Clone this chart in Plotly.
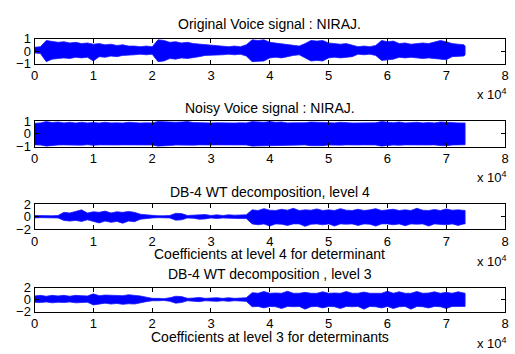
import plotly.graph_objects as go

# sample positions (every 1000 samples, last sample ~73200)
samples = list(range(0, 74000, 1000)) + [73200]

# Envelopes (upper / lower amplitude)
orig_upper = [0.3, 0.35, 0.85, 0.8, 0.7, 0.75, 0.65, 0.7, 0.6, 0.65, 0.55,
              0.6, 0.5, 0.55, 0.45, 0.5, 0.4, 0.4, 0.35, 0.4, 0.35,
              0.9, 0.85, 0.7, 0.75, 0.65, 0.7, 0.6, 0.55, 0.5, 0.45,
              0.45, 0.4, 0.35, 0.4, 0.35, 0.5, 0.9, 0.85, 0.9, 0.7,
              0.65, 0.6, 0.55, 0.45, 0.4, 0.6, 0.85, 0.8, 0.85, 0.65,
              0.6, 0.55, 0.6, 0.5, 0.35, 0.4, 0.35, 0.45, 0.85, 0.75,
              0.8, 0.6, 0.65, 0.55, 0.6, 0.65, 0.6, 0.7, 0.85, 0.75,
              0.6, 0.55, 0.5, 0.4]
orig_lower = [-0.15, -0.2, -0.85, -0.65, -0.6, -0.55, -0.6, -0.5, -0.55, -0.5, -0.8,
              -0.45, -0.5, -0.4, -0.45, -0.35, -0.3, -0.3, -0.25, -0.3, -0.25,
              -0.85, -0.8, -0.6, -0.65, -0.55, -0.6, -0.5, -0.45, -0.35, -0.35,
              -0.3, -0.3, -0.25, -0.3, -0.25, -0.4, -0.85, -0.85, -0.8, -0.55,
              -0.5, -0.55, -0.45, -0.35, -0.3, -0.55, -0.8, -0.75, -0.8, -0.55,
              -0.5, -0.55, -0.5, -0.45, -0.25, -0.3, -0.25, -0.35, -0.75, -0.7,
              -0.65, -0.5, -0.55, -0.5, -0.55, -0.6, -0.55, -0.6, -0.65, -0.7,
              -0.45, -0.4, -0.4, -0.3]

noisy_upper = [0.82, 0.85, 0.95, 0.88, 0.92, 0.85, 0.9, 0.84, 0.9, 0.85, 0.88,
               0.84, 0.9, 0.85, 0.86, 0.84, 0.9, 0.85, 0.84, 0.86, 0.85,
               0.95, 0.93, 0.88, 0.9, 0.92, 0.95, 0.88, 0.85, 0.87, 0.84,
               0.86, 0.84, 0.85, 0.84, 0.86, 0.85, 0.95, 0.93, 0.9, 0.95,
               0.9, 0.92, 0.85, 0.86, 0.84, 0.86, 0.92, 0.9, 0.93, 0.88,
               0.85, 0.9, 0.86, 0.84, 0.85, 0.84, 0.85, 0.86, 0.95, 0.9,
               0.86, 0.92, 0.85, 0.87, 0.9, 0.85, 0.88, 0.85, 0.92, 0.9,
               0.86, 0.85, 0.84, 0.85]
noisy_lower = [-0.85, -0.86, -0.95, -0.9, -0.86, -0.85, -0.88, -0.85, -0.87, -0.84, -0.88,
               -0.85, -0.86, -0.84, -0.86, -0.85, -0.84, -0.86, -0.84, -0.85, -0.86,
               -0.95, -0.94, -0.9, -0.86, -0.88, -0.85, -0.87, -0.85, -0.84, -0.86,
               -0.85, -0.84, -0.86, -0.84, -0.85, -0.86, -0.95, -0.9, -0.92, -0.9,
               -0.86, -0.87, -0.85, -0.84, -0.86, -0.85, -0.92, -0.9, -0.91, -0.86,
               -0.85, -0.87, -0.85, -0.84, -0.86, -0.85, -0.84, -0.86, -0.95, -0.9,
               -0.86, -0.88, -0.85, -0.86, -0.87, -0.85, -0.86, -0.85, -0.9, -0.92,
               -0.86, -0.85, -0.85, -0.84]

l4_upper = [0.2, 0.15, 0.2, 0.15, 0.2, 0.7, 0.6, 0.8, 1.1, 0.6,
            0.8, 0.7, 0.9, 0.6, 0.8, 0.7, 0.85, 0.7, 0.4, 0.3,
            0.2, 0.15, 0.15, 0.2, 0.55, 0.5, 0.2, 0.25, 0.4, 0.35,
            0.2, 0.3, 0.2, 0.3, 0.25, 0.3, 0.3,
            1.1, 1.0, 1.3, 1.05, 1.0, 1.2, 1.05, 1.35, 1.0, 1.1,
            1.05, 1.25, 1.0, 1.1, 1.0, 1.3, 1.05, 1.0, 1.2, 1.0,
            1.1, 1.3, 1.0, 1.05, 1.2, 1.0, 1.1, 1.0, 1.35, 1.05,
            1.0, 1.15, 1.0, 1.25, 1.05, 1.1, 1.0, 1.0]
l4_lower = [-0.2, -0.15, -0.2, -0.15, -0.2, -0.6, -0.7, -0.6, -0.75, -0.5,
            -0.7, -1.0, -0.7, -0.9, -0.75, -1.05, -0.7, -0.8, -0.4, -0.3,
            -0.2, -0.15, -0.15, -0.2, -0.55, -0.5, -0.2, -0.25, -0.4, -0.35,
            -0.2, -0.3, -0.2, -0.3, -0.25, -0.3, -0.3,
            -1.15, -1.3, -1.15, -1.5, -1.15, -1.2, -1.4, -1.15, -1.15, -1.55,
            -1.2, -1.15, -1.3, -1.15, -1.5, -1.15, -1.2, -1.15, -1.4, -1.15,
            -1.2, -1.5, -1.15, -1.15, -1.3, -1.15, -1.45, -1.15, -1.2, -1.15,
            -1.5, -1.15, -1.2, -1.3, -1.15, -1.4, -1.15, -1.15]

l3_upper = [0.6, 0.7, 0.55, 0.7, 0.6, 0.7, 0.55, 0.7, 0.65, 0.6,
            0.95, 0.65, 0.75, 0.7, 0.75, 0.65, 0.8, 0.75, 0.6, 0.4,
            0.2, 0.2, 0.15, 0.3, 0.55, 0.5, 0.2, 0.25, 0.35, 0.2,
            0.25, 0.3, 0.2, 0.3, 0.2, 0.25, 0.3,
            1.15, 1.05, 1.35, 1.05, 1.1, 1.05, 1.4, 1.05, 1.05, 1.2,
            1.05, 1.05, 1.3, 1.05, 1.1, 1.05, 1.35, 1.05, 1.05, 1.25,
            1.05, 1.1, 1.05, 1.4, 1.05, 1.3, 1.05, 1.05, 1.35, 1.05,
            1.1, 1.3, 1.05, 1.2, 1.05, 1.3, 1.05, 1.05]
l3_lower = [-0.45, -0.5, -0.4, -0.55, -0.45, -0.5, -0.4, -0.55, -0.5, -0.45,
            -0.9, -0.7, -0.6, -0.75, -0.65, -0.8, -0.7, -0.75, -0.5, -0.35,
            -0.2, -0.2, -0.15, -0.3, -0.6, -0.5, -0.2, -0.25, -0.35, -0.2,
            -0.25, -0.3, -0.2, -0.3, -0.2, -0.25, -0.3,
            -1.2, -1.15, -1.4, -1.15, -1.2, -1.5, -1.15, -1.2, -1.15, -1.6,
            -1.2, -1.15, -1.4, -1.15, -1.2, -1.5, -1.15, -1.2, -1.15, -1.6,
            -1.15, -1.2, -1.4, -1.15, -1.5, -1.2, -1.15, -1.6, -1.15, -1.2,
            -1.4, -1.15, -1.2, -1.5, -1.15, -1.2, -1.15, -1.15]

x_tick_vals = [0, 10000, 20000, 30000, 40000, 50000, 60000, 70000, 80000]
x_tick_text = ["0", "1", "2", "3", "4", "5", "6", "7", "8"]

titles = ["Original Voice signal : NIRAJ.", "Noisy Voice signal : NIRAJ.",
          "DB-4 WT decomposition, level 4", "DB-4 WT decomposition , level 3"]
xlabels = ["", "", "Coefficients at level 4 for determinant",
           "Coefficients at level 3 for determinants"]

series = [(orig_upper, orig_lower), (noisy_upper, noisy_lower),
          (l4_upper, l4_lower), (l3_upper, l3_lower)]
y_ranges = [[-1, 1], [-1, 1], [-2, 2], [-2, 2]]
y_ticks = [[-1, 0, 1], [-1, 0, 1], [-2, 0, 2], [-2, 0, 2]]

W, H = 515, 354
# pixel layout
x_left, x_right = 31, 509
boxes = [(33, 59), (119, 146), (206, 232), (293, 318)]
title_y = [18, 105, 193, 279]
xlabel_y = [None, None, 258, 345]
exp_y = [91, 178, 265, 351]

fig = go.Figure()
font = "Liberation Sans, Arial, sans-serif"

for i, (up, lo) in enumerate(series):
    n = min(len(samples), len(up), len(lo))
    xs = samples[:n] + samples[:n][::-1]
    ys = up[:n] + lo[:n][::-1]
    fig.add_trace(go.Scatter(
        x=xs, y=ys, mode="lines", fill="toself",
        fillcolor="#0000FF", line=dict(color="#1a1aff", width=0.8),
        xaxis="x" if i == 0 else f"x{i+1}",
        yaxis="y" if i == 0 else f"y{i+1}",
        showlegend=False, hoverinfo="skip"))

layout = dict(width=W, height=H, margin=dict(l=0, r=0, t=0, b=0),
              paper_bgcolor="white", plot_bgcolor="white",
              font=dict(family=font, size=13, color="black"), showlegend=False)

annotations = []
for i in range(4):
    sfx = "" if i == 0 else str(i + 1)
    top, bot = boxes[i]
    layout["xaxis" + sfx] = dict(
        domain=[x_left / W, x_right / W], anchor="y" + sfx,
        range=[0, 80000], tickvals=x_tick_vals, ticktext=x_tick_text,
        showline=True, linecolor="black", linewidth=1, mirror="ticks",
        ticks="inside", ticklen=4, tickcolor="black", showgrid=False,
        zeroline=False, tickfont=dict(size=13, family=font))
    layout["yaxis" + sfx] = dict(
        domain=[1 - bot / H, 1 - top / H], anchor="x" + sfx,
        range=y_ranges[i], tickvals=y_ticks[i],
        showline=True, linecolor="black", linewidth=1, mirror="ticks",
        ticks="inside", ticklen=4, tickcolor="black", showgrid=False,
        zeroline=False, tickfont=dict(size=13, family=font))
    annotations.append(dict(text=titles[i], x=270 / W, y=1 - title_y[i] / H,
                            xref="paper", yref="paper", showarrow=False,
                            xanchor="center", yanchor="middle",
                            font=dict(size=14, family=font)))
    if xlabels[i]:
        annotations.append(dict(text=xlabels[i], x=270 / W, y=1 - xlabel_y[i] / H,
                                xref="paper", yref="paper", showarrow=False,
                                xanchor="center", yanchor="middle",
                                font=dict(size=14, family=font)))
    annotations.append(dict(text="x 10<sup>4</sup>", x=513 / W, y=1 - exp_y[i] / H,
                            xref="paper", yref="paper", showarrow=False,
                            xanchor="right", yanchor="middle",
                            font=dict(size=13, family=font)))

layout["annotations"] = annotations
fig.update_layout(**layout)
fig.write_html("out.html")
